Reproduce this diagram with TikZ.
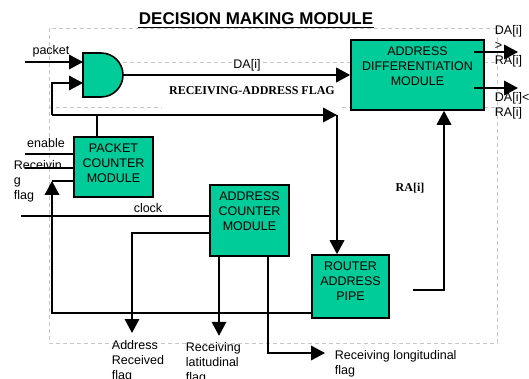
\documentclass[tikz,border=0pt]{standalone}
\usepackage{fontspec}
\setmainfont{Liberation Sans}
\newfontfamily\timesfont{Liberation Serif}
\usetikzlibrary{arrows.meta}
\definecolor{modgreen}{RGB}{0,204,153}
\tikzset{
  module/.style={draw, line width=1.6pt, fill=modgreen},
  modtext/.style={anchor=north, align=center, inner sep=0pt, yshift=-6.5pt, font=\fontsize{12.5}{15}\selectfont},
  sig/.style={font=\fontsize{12.5}{15}\selectfont, inner sep=0pt, align=left},
  boldlbl/.style={font=\timesfont\bfseries\fontsize{12}{14}\selectfont, inner sep=0pt},
  guide/.style={draw=black!22, line width=.7pt, dash pattern=on 4pt off 3pt},
}
\begin{document}
\begin{tikzpicture}[x=1pt, y=-1pt, >={Triangle[length=14pt,width=14.5pt]}, line width=1.9pt]
\useasboundingbox (0,0) rectangle (529,379);
% dashed frame
\draw[guide] (49,28) rectangle (497,343);
\draw[guide] (123,62)--(351,62) (484,62)--(497,62) (49,107)--(162,107) (342,107)--(351,107) (484,107)--(497,107);
% title
\node[font=\bfseries\fontsize{17}{20}\selectfont, inner sep=0pt] (title) at (256,19) {DECISION MAKING MODULE};
\draw[line width=1.3pt] ([yshift=-2.5pt]title.base west) -- ([yshift=-2.5pt]title.base east);
% modules
\node[module, minimum width=133pt, minimum height=70pt, label={[modtext]north:ADDRESS\\DIFFERENTIATION\\MODULE}] (adm) at (417.5,75) {};
\node[module, minimum width=79pt, minimum height=60pt, label={[modtext]north:PACKET\\COUNTER\\MODULE}] (pcm) at (113.5,167) {};
\node[module, minimum width=79pt, minimum height=71pt, label={[modtext]north:ADDRESS\\COUNTER\\MODULE}] (acm) at (249.5,220.5) {};
\node[module, minimum width=77pt, minimum height=63pt, label={[modtext]north:ROUTER\\ADDRESS\\PIPE}] (rap) at (350.5,286.5) {};
% and gate
\draw[fill=modgreen, line width=1.6pt] (83,53) -- (101,53) arc[start angle=-90, end angle=90, radius=22] -- (83,97) -- cycle;
\coordinate (gin1) at (83,62);
\coordinate (gin2) at (83,83);
\coordinate (gout) at (123,75);
% packet input
\coordinate (pkt) at (25,62);
\draw[->] (pkt) -- (gin1);
\node[sig] (pktlbl) at (51,51) {packet};
% flag bus
\coordinate (bus) at (52,115);
\coordinate (turn) at (337,115);
\coordinate (pctop) at (97,115);
\draw (pcm.north -| pctop) -- (pctop);
\draw[->] (bus) |- (gin2);
\draw[->] (bus) -- (turn);
\draw[->] (turn) -- (turn |- rap.north);
\node[boldlbl] (flaglbl) at (252,91) {RECEIVING-ADDRESS FLAG};
% gate output
\draw[->] (gout) -- (gout -| adm.west);
\node[sig, fill=white, inner sep=1pt] (dalbl) at (247,65) {DA[i]};
% differentiation outputs
\coordinate (gtin) at (474,52);
\coordinate (gt) at (518,52);
\coordinate (ltin) at (474,88);
\coordinate (lt) at (518,88);
\draw[->] (gtin) -- (gt);
\draw[->] (ltin) -- (lt);
\node[sig, anchor=north west] (gtlbl) at (494,24) {DA[i]\\>\\RA[i]};
\node[sig, anchor=north west] (ltlbl) at (494,91) {DA[i]<\\RA[i]};
% router address back to differentiation
\coordinate (ra) at (413,290);
\coordinate (raup) at (444,290);
\draw[->] (ra) -- (raup) -- (raup |- adm.south);
\node[boldlbl] (ralbl) at (410,188) {RA[i]};
% feedback to packet counter
\coordinate (fbk) at (52,181);
\draw[->] ([yshift=-26.5pt]rap.west) -| (fbk);
\draw (fbk) -- (fbk -| pcm.west);
% packet counter inputs
\coordinate (en) at (25,154);
\coordinate (rf) at (25,168);
\draw (en) -- (en -| pcm.west);
\draw (rf) -- (rf -| pcm.west);
\node[sig] (enlbl) at (46,143) {enable};
\node[sig, anchor=west] (rflbl) at (13,181) {Receivin\\g\\flag};
% address counter
\coordinate (clk) at (21,216);
\draw (clk) -- (clk -| acm.west);
\node[sig] (clklbl) at (148,208) {clock};
\coordinate (arf) at (132,333);
\draw[->] ([yshift=-12.5pt]acm.west) -| (arf);
\node[sig, anchor=north west] (arflbl) at (111,339) {Address\\Received\\flag};
\draw[->] ([xshift=-30.5pt]acm.south) -- ++(0,79);
\node[sig, anchor=north west] (latlbl) at (185,341) {Receiving\\latitudinal\\flag};
\coordinate (lon) at (325,353);
\draw[->] ([xshift=18.5pt]acm.south) |- (lon);
\node[sig, anchor=north west] (lonlbl) at (334,349) {Receiving longitudinal\\flag};
\end{tikzpicture}
\end{document}
